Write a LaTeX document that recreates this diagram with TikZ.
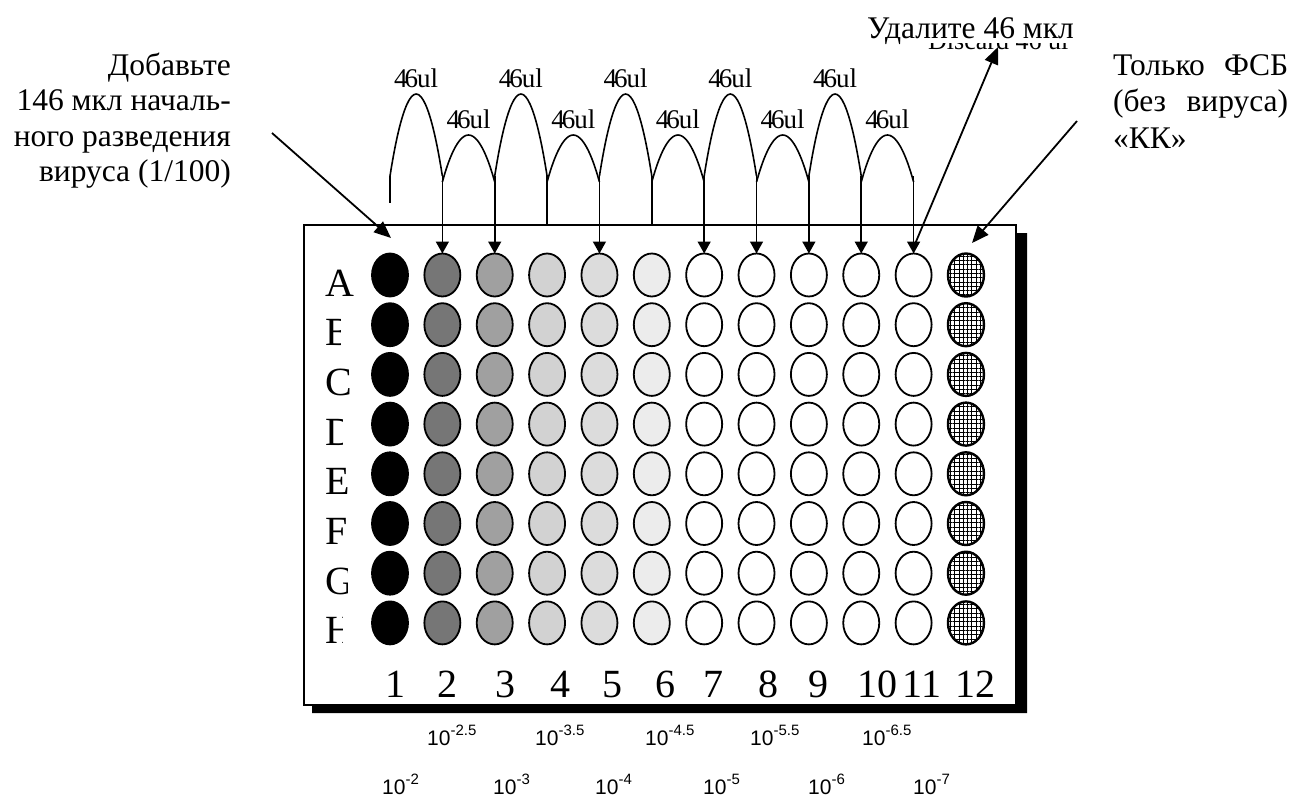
\documentclass[tikz,border=0pt]{standalone}
\usepackage{fontspec}
\setmainfont{Liberation Serif}
\newfontfamily\expfont{Liberation Sans}
\usetikzlibrary{arrows.meta,patterns.meta,shapes.geometric}

% dilution shades of the wells
\definecolor{dilA}{RGB}{118,118,118}
\definecolor{dilB}{RGB}{160,160,160}
\definecolor{dilC}{RGB}{210,210,210}
\definecolor{dilD}{RGB}{220,220,220}
\definecolor{dilE}{RGB}{236,236,236}

% a power of ten with a raised exponent
\newcommand\dilexp[1]{10\raisebox{9.5pt}{\fontsize{15}{15}\selectfont -#1}}

\begin{document}
\begin{tikzpicture}[x=1pt,y=-1pt,
  pipe/.style={line width=1.6pt},
  drop/.style={pipe,-{Triangle[width=13pt,length=12pt]}},
  pointer/.style={line width=1.8pt,-{Triangle[width=14pt,length=17pt]}},
  well/.style={ellipse,draw=black,line width=1.8pt,minimum width=36pt,
    minimum height=43pt,inner sep=0pt,outer sep=0pt},
  note/.style={inner sep=0pt,font=\fontsize{31.5}{36}\selectfont},
  vol/.style={inner sep=0pt,font=\fontsize{27}{27}\selectfont},
  big/.style={inner sep=0pt,font=\fontsize{40}{40}\selectfont},
  expo/.style={inner sep=0pt,font=\expfont\fontsize{21}{21}\selectfont},
]
\useasboundingbox (0,0) rectangle (1292,798);
\fill[white] (0,0) rectangle (1292,798);

% plate with its drop shadow
\fill (1016,233) -- (1027,233) -- (1027,713) -- (312,713) -- (312,705)
      -- (1016,705) -- cycle;
\node[draw,line width=2.5pt,fill=white,minimum width=712pt,minimum height=480pt,
      inner sep=0pt,outer sep=0pt] (plate) at (660,465) {};

% wells, columns 1-11: dilution series
\foreach \c/\col in {1/black,2/dilA,3/dilB,4/dilC,5/dilD,6/dilE,
                     7/white,8/white,9/white,10/white,11/white}{
  \foreach \r in {1,...,8}{
    \node[well,fill=\col] (w-\r-\c) at ({390+52.36*(\c-1)},{275+49.7*(\r-1)}) {};
  }
}
% column 12: cell control
\foreach \r in {1,...,8}{
  \node[well,line width=2.4pt,fill=white,
        pattern={Hatch[distance=4.3pt,angle=0,line width=0.8pt]}]
        (w-\r-12) at ({390+52.36*11},{275+49.7*(\r-1)}) {};
}

% row letters
\foreach \L/\cut [count=\r] in {A/362,B/340,C/362,D/342,E/362,F/362,G/347,H/342}{
  \begin{scope}
    \clip (300,{275+49.7*(\r-1)-40}) rectangle (\cut,{275+49.7*(\r-1)+30});
    \node[big,anchor=base west] (row-\L) at (325,{275+49.7*(\r-1)+21}) {\L};
  \end{scope}
}

% column numbers
\foreach \n/\x in {1/395,2/447,3/505,4/560,5/612,6/665,7/713,8/768,9/818,
                   10/877,11/922,12/975}{
  \node[big,anchor=base] (num-\n) at (\x,697) {\n};
}

% transfer arcs
\foreach \c in {1,...,11}{
  \coordinate (hi-\c) at ({390+52.36*(\c-1)},176);
  \coordinate (lo-\c) at ({390+52.36*(\c-1)},182);
}
\foreach \c [evaluate=\c as \n using int(\c+1)] in {1,3,5,7,9}{
  \coordinate (tp-\c) at ({390+52.36*(\c-0.5)},94);
  \draw[pipe] (hi-\c) parabola bend (tp-\c) (hi-\n);
  \node[vol,anchor=base] (vt-\c) at ([yshift=7pt]tp-\c) {4\kern-3pt6\kern-1pt ul};
}
\foreach \c [evaluate=\c as \n using int(\c+1)] in {2,4,6,8,10}{
  \coordinate (sp-\c) at ({390+52.36*(\c-0.5)},135);
  \draw[pipe] (lo-\c) parabola bend (sp-\c) (lo-\n);
  \node[vol,anchor=base] (vs-\c) at ([yshift=7pt]sp-\c) {4\kern-3pt6\kern-1pt ul};
}

% drops into the wells
\coordinate (c1low) at (390,203);
\draw[pipe] (hi-1) -- (c1low);
\foreach \c in {2,3,5,7,8,9,10,11}{
  \draw[drop] (hi-\c) -- (w-1-\c.north);
}
\foreach \c in {4,6}{
  \draw[pipe] (hi-\c) -- (hi-\c |- plate.north);
}

% notes
\node[note,anchor=base east] (add1) at (231,75) {Добавьте};
\node[note,anchor=base east] (add2) at (231,110.5) {146 мкл началь-};
\node[note,anchor=base east] (add3) at (231,146) {ного разведения};
\node[note,anchor=base east] (add4) at (231,181.5) {вируса (1/100)};

\node[note,anchor=base west] (pbs1) at (1113,75) {\makebox[175pt][s]{Только ФСБ}};
\node[note,anchor=base west] (pbs2) at (1113,111.5) {\makebox[175pt][s]{(без вируса)}};
\node[note,anchor=base west] (pbs3) at (1113,148) {«КК»};

\begin{scope}
  \clip (920,43.5) rectangle (1075,52);
  \node[inner sep=0pt,anchor=base west,font=\fontsize{26}{26}\selectfont]
    (old) at (928,49) {Discard 46 ul};
\end{scope}
\node[note,anchor=base west] (rm) at (867,38) {Удалите 46 мкл};

% pointers
\coordinate (addfrom) at (272,133);
\coordinate (addto) at (391,238);
\draw[pointer] (addfrom) -- (addto);
\coordinate (rmfrom) at (915,244);
\coordinate (rmto) at (998,47);
\draw[pointer] (rmfrom) -- (rmto);
\coordinate (pbsfrom) at (1077,121);
\coordinate (pbsto) at (972,243);
\draw[pointer] (pbsfrom) -- (pbsto);

% dilution factors
\foreach \e/\x in {2.5/427,3.5/535,4.5/645,5.5/750,6.5/862}{
  \node[expo,anchor=base west] (eh-\x) at (\x,745) {\dilexp{\e}};
}
\foreach \e/\x in {2/382,3/493,4/595,5/703,6/808,7/913}{
  \node[expo,anchor=base west] (el-\x) at (\x,794) {\dilexp{\e}};
}
\end{tikzpicture}
\end{document}
